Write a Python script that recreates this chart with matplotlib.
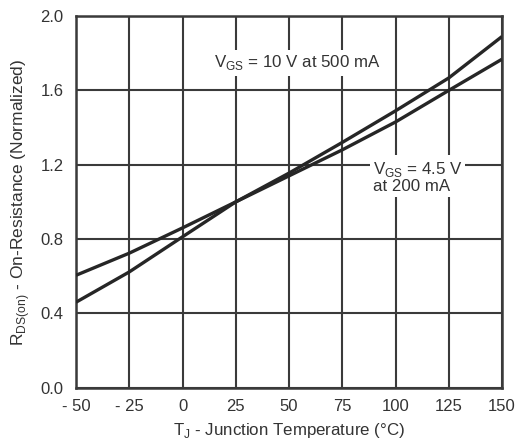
import matplotlib
matplotlib.use("Agg")
import matplotlib.pyplot as plt

plt.rcParams['font.family'] = ['Liberation Sans', 'DejaVu Sans']

temps = [-50, -25, 0, 25, 50, 75, 100, 125, 150]
r_10v = [0.46, 0.623, 0.812, 1.0, 1.155, 1.32, 1.49, 1.667, 1.89]
r_45v = [0.605, 0.724, 0.86, 1.0, 1.14, 1.28, 1.43, 1.6, 1.768]

x_ticks = [-50, -25, 0, 25, 50, 75, 100, 125, 150]
x_ticklabels = ['- 50', '- 25', '0', '25', '50', '75', '100', '125', '150']
y_ticks = [0.0, 0.4, 0.8, 1.2, 1.6, 2.0]
y_ticklabels = ['0.0', '0.4', '0.8', '1.2', '1.6', '2.0']

label_10v = r'V$_{\mathregular{GS}}$ = 10 V at 500 mA'
label_45v = 'V$_{\\mathregular{GS}}$ = 4.5 V\nat 200 mA'

grid_c = '#3a3a3a'
line_c = '#262626'
text_c = '#333333'

fig = plt.figure(figsize=(5.17, 4.48), dpi=100)
ax = fig.add_axes([0.147, 0.1346, 0.824, 0.8295])

ax.set_xlim(-50, 150)
ax.set_ylim(0, 2.0)
ax.set_xticks(x_ticks)
ax.set_xticklabels(x_ticklabels)
ax.set_yticks(y_ticks)
ax.set_yticklabels(y_ticklabels)
ax.tick_params(length=0, labelsize=12, colors=text_c, pad=9)
ax.tick_params(axis='x', pad=8)
ax.grid(True, color=grid_c, linewidth=1.5, zorder=1)
ax.set_axisbelow(True)
for s in ax.spines.values():
    s.set_color(grid_c)
    s.set_linewidth(1.8)

ax.plot(temps, r_10v, color=line_c, linewidth=2.4, zorder=3, solid_capstyle='butt')
ax.plot(temps, r_45v, color=line_c, linewidth=2.4, zorder=3, solid_capstyle='butt')

ax.text(54, 1.748, label_10v, ha='center', va='center', fontsize=12.2, color=text_c,
        zorder=4, bbox=dict(facecolor='white', edgecolor='none', pad=2.5))
ax.text(89.4, 1.134, label_45v, ha='left', va='center', fontsize=12.2, color=text_c,
        linespacing=1.0, zorder=4, bbox=dict(facecolor='white', edgecolor='none', pad=2.0))

ax.set_xlabel(r'T$_{\mathregular{J}}$ - Junction Temperature (°C)', fontsize=12.2, color=text_c, labelpad=5)
ax.set_ylabel(r'R$_{\mathregular{DS(on)}}$ - On-Resistance (Normalized)', fontsize=12.5, color=text_c, labelpad=6)

fig.savefig('out.png', dpi=100)
